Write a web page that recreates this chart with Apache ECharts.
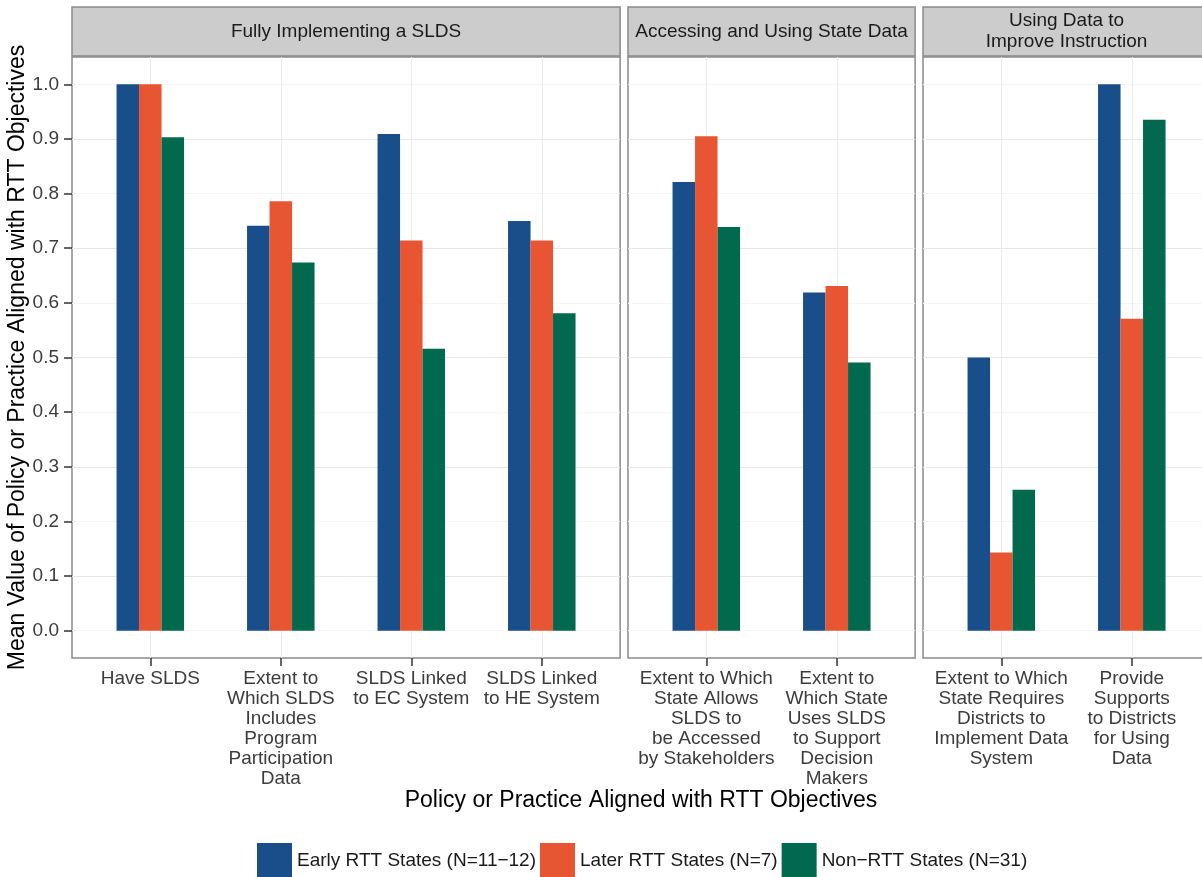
<!DOCTYPE html>
<html>
<head>
<meta charset="utf-8">
<title>RTT SLDS chart</title>
<script src="https://cdn.jsdelivr.net/npm/echarts@6.0.0/dist/echarts.min.js"></script>
<style>
  html, body { margin: 0; padding: 0; background: #fff; }
  #chart { width: 1202px; height: 877px; }
</style>
</head>
<body>
<div id="chart"></div>
<script>
// facet titles
const panelTitles = ['Fully Implementing a SLDS', 'Accessing and Using State Data', 'Using Data to\nImprove Instruction']

// categories per facet
const fullCats = ['Have SLDS', 'Extent to\nWhich SLDS\nIncludes\nProgram\nParticipation\nData', 'SLDS Linked\nto EC System', 'SLDS Linked\nto HE System']
const accessCats = ['Extent to Which\nState Allows\nSLDS to\nbe Accessed\nby Stakeholders', 'Extent to\nWhich State\nUses SLDS\nto Support\nDecision\nMakers']
const instructCats = ['Extent to Which\nState Requires\nDistricts to\nImplement Data\nSystem', 'Provide\nSupports\nto Districts\nfor Using\nData']

// groups (legend)
const groupNames = ['Early RTT States (N=11\u221212)', 'Later RTT States (N=7)', 'Non\u2212RTT States (N=31)']
const groupColors = ['#184e89', '#e85532', '#00694e']

// values, in the order fullCats, accessCats, instructCats
const earlyVals = [1.0, 0.741, 0.909, 0.75, 0.821, 0.619, 0.5, 1.0]
const laterVals = [1.0, 0.786, 0.714, 0.714, 0.905, 0.631, 0.143, 0.571]
const nonRttVals = [0.903, 0.674, 0.516, 0.581, 0.739, 0.491, 0.258, 0.935]

// y axis tick labels
const yTicks = [0, 0.1, 0.2, 0.3, 0.4, 0.5, 0.6, 0.7, 0.8, 0.9, 1.0]

const font = 'Liberation Sans, Arial, Helvetica, sans-serif'
const unit = 130.5 // px per category
const panelLeft = [72, 628, 923]
const panelTop = 57
const panelHeight = 601
const stripTop = 7
const stripHeight = 49

const panelCats = [fullCats, accessCats, instructCats]
const groupVals = [earlyVals, laterVals, nonRttVals]

const grids = []
const xAxes = []
const yAxes = []
const series = []
const graphics = []

// frame grids: border + horizontal grid lines
panelCats.forEach((cats, p) => {
  const w = (cats.length - 1 + 1.2) * unit
  grids.push({
    left: panelLeft[p], top: panelTop, width: w, height: panelHeight,
    show: true, borderColor: '#8a8a8a', borderWidth: 1.5, backgroundColor: '#fff',
    outerBoundsMode: 'none'
  })
  xAxes.push({ gridIndex: p, type: 'value', min: 0, max: 1, show: false })
  yAxes.push({
    gridIndex: p, type: 'value', min: -0.05, max: 1.05, interval: 0.05,
    axisLine: { show: false },
    axisTick: { show: p === 0, length: 8, customValues: yTicks, lineStyle: { color: '#333', width: 1.5 } },
    axisLabel: {
      show: p === 0, customValues: yTicks, margin: 13,
      fontSize: 19, fontFamily: font, color: '#3c3c3c',
      formatter: v => v.toFixed(1)
    },
    splitLine: { show: true, lineStyle: { color: ['#f5f5f5', '#e8e8e8'], width: 1 } },
    name: p === 0 ? 'Mean Value of Policy or Practice Aligned with RTT Objectives' : '',
    nameLocation: 'middle', nameGap: 43,
    nameTextStyle: { fontSize: 23, fontFamily: font, color: '#000' }
  })
  // strip
  graphics.push({
    type: 'rect', shape: { x: panelLeft[p], y: stripTop, width: w, height: stripHeight },
    style: { fill: '#cccccc', stroke: '#8a8a8a', lineWidth: 1.5 }, z: 10
  })
  graphics.push({
    type: 'text', x: panelLeft[p] + w / 2, y: stripTop + stripHeight / 2, z: 11,
    style: {
      text: panelTitles[p], align: 'center', verticalAlign: 'middle',
      fontSize: 19, fontFamily: font, fill: '#1a1a1a', lineHeight: 21
    }
  })
})

// bar grids: categories + bars
let offset = 0
panelCats.forEach((cats, p) => {
  const gi = p + 3
  grids.push({
    left: panelLeft[p] + 0.6 * unit, top: panelTop,
    width: (cats.length - 1) * unit, height: panelHeight,
    outerBoundsMode: 'none'
  })
  xAxes.push({
    gridIndex: gi, type: 'category', data: cats, boundaryGap: false,
    axisLine: { show: false, onZero: false },
    axisTick: { show: true, length: 8, lineStyle: { color: '#333', width: 1.5 } },
    axisLabel: {
      interval: 0, margin: 11, fontSize: 19, lineHeight: 20,
      fontFamily: font, color: '#3c3c3c', align: 'center'
    },
    splitLine: { show: true, lineStyle: { color: '#ececec', width: 1 } }
  })
  yAxes.push({ gridIndex: gi, type: 'value', min: -0.05, max: 1.05, show: false })
  groupNames.forEach((name, g) => {
    series.push({
      type: 'bar', name: name, xAxisIndex: gi, yAxisIndex: gi,
      data: groupVals[g].slice(offset, offset + cats.length),
      barWidth: 22.5, barGap: '0%', clip: false,
      itemStyle: { color: groupColors[g] },
      emphasis: { disabled: true }
    })
  })
  offset += cats.length
})

// x axis title
graphics.push({
  type: 'text', x: 641, y: 801,
  style: {
    text: 'Policy or Practice Aligned with RTT Objectives', align: 'center', verticalAlign: 'middle',
    fontSize: 23, fontFamily: font, fill: '#000'
  }
})

const myChart = echarts.init(document.getElementById('chart'))
myChart.setOption({
  animation: false,
  backgroundColor: '#fff',
  grid: grids,
  xAxis: xAxes,
  yAxis: yAxes,
  series: series,
  legend: {
    data: groupNames, left: 257, top: 843, padding: 0,
    itemWidth: 35, itemHeight: 35, itemGap: 4, icon: 'rect',
    textStyle: { fontSize: 19, fontFamily: font, color: '#1a1a1a' }
  },
  graphic: graphics
})
window.addEventListener('resize', () => {
  myChart.resize()
})
</script>
</body>
</html>
